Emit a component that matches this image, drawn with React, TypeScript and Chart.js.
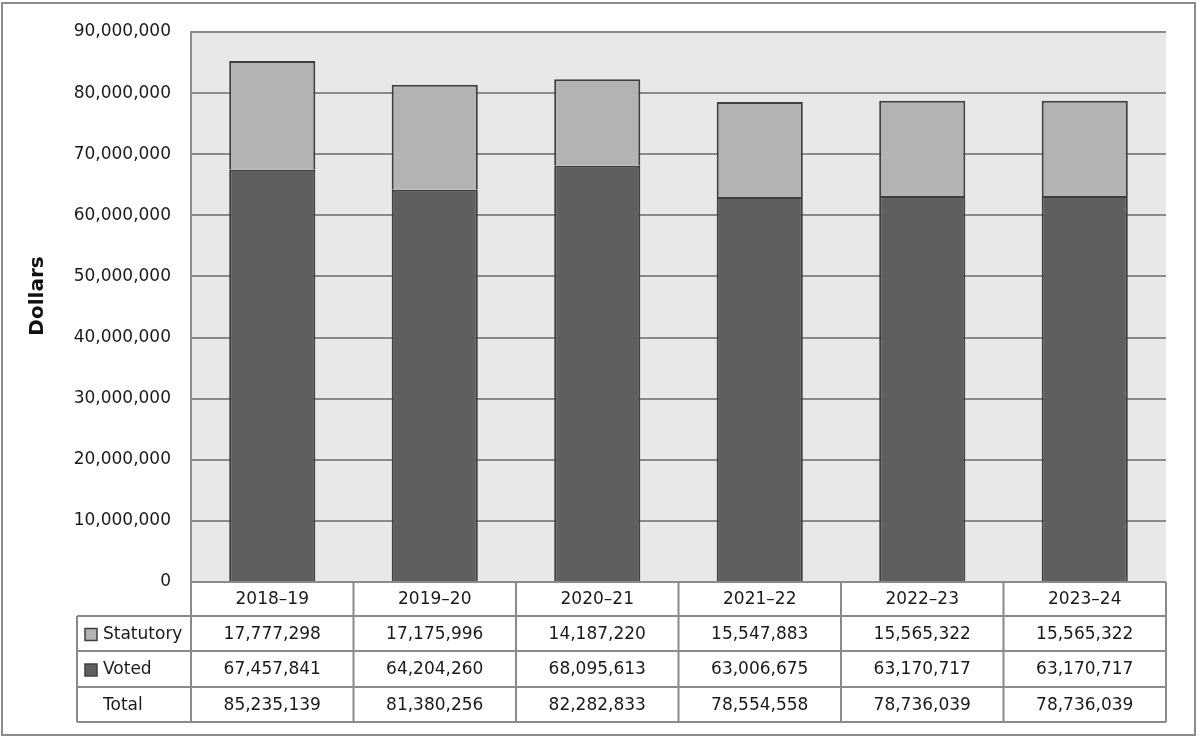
import { useEffect, useRef } from 'react'
import { Chart, registerables } from 'chart.js'

Chart.register(...registerables)

const categories = ['2018–19', '2019–20', '2020–21', '2021–22', '2022–23', '2023–24']
const statutory = [17777298, 17175996, 14187220, 15547883, 15565322, 15565322]
const voted = [67457841, 64204260, 68095613, 63006675, 63170717, 63170717]
const totals = [85235139, 81380256, 82282833, 78554558, 78736039, 78736039]
const yMax = 90000000
const yStep = 10000000

const FONT = '"DejaVu Sans", sans-serif'
const TEXT = '#1a1a1a'
const LINE = '#8a8a8a'
const STAT_COLOR = '#b3b3b3'
const VOTED_COLOR = '#5f5f5f'
const BAR_BORDER = '#3f3f3f'

const fmt = (v: number) => v.toLocaleString('en-US')

// draws the white page, plot background, data table, axis title and frame
const tablePlugin = {
  id: 'dataTable',
  beforeDraw(chart: any) {
    const { ctx, chartArea: a, width, height } = chart
    ctx.save()
    ctx.fillStyle = '#ffffff'
    ctx.fillRect(0, 0, width, height)
    ctx.fillStyle = '#e8e8e8'
    ctx.fillRect(a.left, a.top, a.right - a.left, a.bottom - a.top)
    ctx.restore()
  },
  afterDraw(chart: any) {
    const { ctx, chartArea: a } = chart
    const x = chart.scales.x
    const n = categories.length
    const half = (x.getPixelForTick(1) - x.getPixelForTick(0)) / 2
    const edges = categories.map((_, i) => x.getPixelForTick(i) - half)
    edges.push(x.getPixelForTick(n - 1) + half)
    const right = edges[n]
    const tableLeft = 77
    const top = a.bottom
    const ys = [top, top + 34, top + 69, top + 105, top + 140]

    const rows = [
      { label: 'Statutory', swatch: STAT_COLOR, values: statutory },
      { label: 'Voted', swatch: VOTED_COLOR, values: voted },
      { label: 'Total', swatch: null as string | null, values: totals },
    ]

    ctx.save()
    ctx.strokeStyle = LINE
    ctx.lineWidth = 2
    ctx.beginPath()
    ctx.moveTo(edges[0], ys[0])
    ctx.lineTo(right, ys[0])
    for (let r = 1; r < ys.length; r++) {
      ctx.moveTo(tableLeft, ys[r])
      ctx.lineTo(right, ys[r])
    }
    ctx.moveTo(tableLeft, ys[1])
    ctx.lineTo(tableLeft, ys[4])
    edges.forEach((e) => {
      ctx.moveTo(e, ys[0])
      ctx.lineTo(e, ys[4])
    })
    ctx.stroke()

    ctx.fillStyle = TEXT
    ctx.font = `17px ${FONT}`
    ctx.textBaseline = 'middle'
    ctx.textAlign = 'center'
    categories.forEach((c, i) => {
      ctx.fillText(c, x.getPixelForTick(i), (ys[0] + ys[1]) / 2 + 1)
    })
    rows.forEach((row, r) => {
      const cy = (ys[r + 1] + ys[r + 2]) / 2 + 1
      ctx.textAlign = 'center'
      ctx.fillStyle = TEXT
      row.values.forEach((v, i) => {
        ctx.fillText(fmt(v), x.getPixelForTick(i), cy)
      })
      if (row.swatch) {
        ctx.fillStyle = row.swatch
        ctx.fillRect(85, cy - 6, 12, 12)
        ctx.strokeStyle = BAR_BORDER
        ctx.lineWidth = 1.5
        ctx.strokeRect(85, cy - 6, 12, 12)
      }
      ctx.fillStyle = TEXT
      ctx.textAlign = 'left'
      ctx.fillText(row.label, 103, cy)
    })

    // y axis title
    ctx.save()
    ctx.translate(38, 296)
    ctx.rotate(-Math.PI / 2)
    ctx.font = `bold 20px ${FONT}`
    ctx.textAlign = 'center'
    ctx.fillStyle = '#111'
    ctx.fillText('Dollars', 0, 0)
    ctx.restore()

    // outer frame
    ctx.strokeStyle = '#8c8c8c'
    ctx.lineWidth = 2
    ctx.strokeRect(2, 3, 1193, 732)
    ctx.restore()
  },
}

export default function App() {
  const canvasRef = useRef<HTMLCanvasElement>(null)
  const chartRef = useRef<Chart | null>(null)

  useEffect(() => {
    document.body.style.margin = '0'
    if (!canvasRef.current) return
    if (chartRef.current) chartRef.current.destroy()

    chartRef.current = new Chart(canvasRef.current, {
      type: 'bar',
      data: {
        labels: categories,
        datasets: [
          {
            label: 'Voted',
            data: voted,
            backgroundColor: VOTED_COLOR,
            borderColor: BAR_BORDER,
            borderWidth: 2,
            barPercentage: 0.53,
            categoryPercentage: 1,
          },
          {
            label: 'Statutory',
            data: statutory,
            backgroundColor: STAT_COLOR,
            borderColor: BAR_BORDER,
            borderWidth: 2,
            barPercentage: 0.53,
            categoryPercentage: 1,
          },
        ],
      },
      options: {
        responsive: false,
        animation: false,
        layout: { padding: { left: 0, top: 32, right: 34, bottom: 158 } },
        plugins: {
          legend: { display: false },
          tooltip: { enabled: false },
        },
        scales: {
          x: {
            display: false,
            stacked: true,
          },
          y: {
            stacked: true,
            min: 0,
            max: yMax,
            afterFit: (scale: any) => {
              scale.width = 191
            },
            ticks: {
              stepSize: yStep,
              padding: 20,
              color: TEXT,
              font: { family: FONT, size: 17 },
              callback: (v: any) => fmt(Number(v)),
            },
            grid: {
              color: LINE,
              lineWidth: 2,
              drawTicks: false,
            },
            border: { display: true, color: LINE, width: 2 },
          },
        },
      },
      plugins: [tablePlugin],
    })

    return () => {
      if (chartRef.current) {
        chartRef.current.destroy()
        chartRef.current = null
      }
    }
  }, [])

  return <canvas ref={canvasRef} width={1200} height={740} />
}
